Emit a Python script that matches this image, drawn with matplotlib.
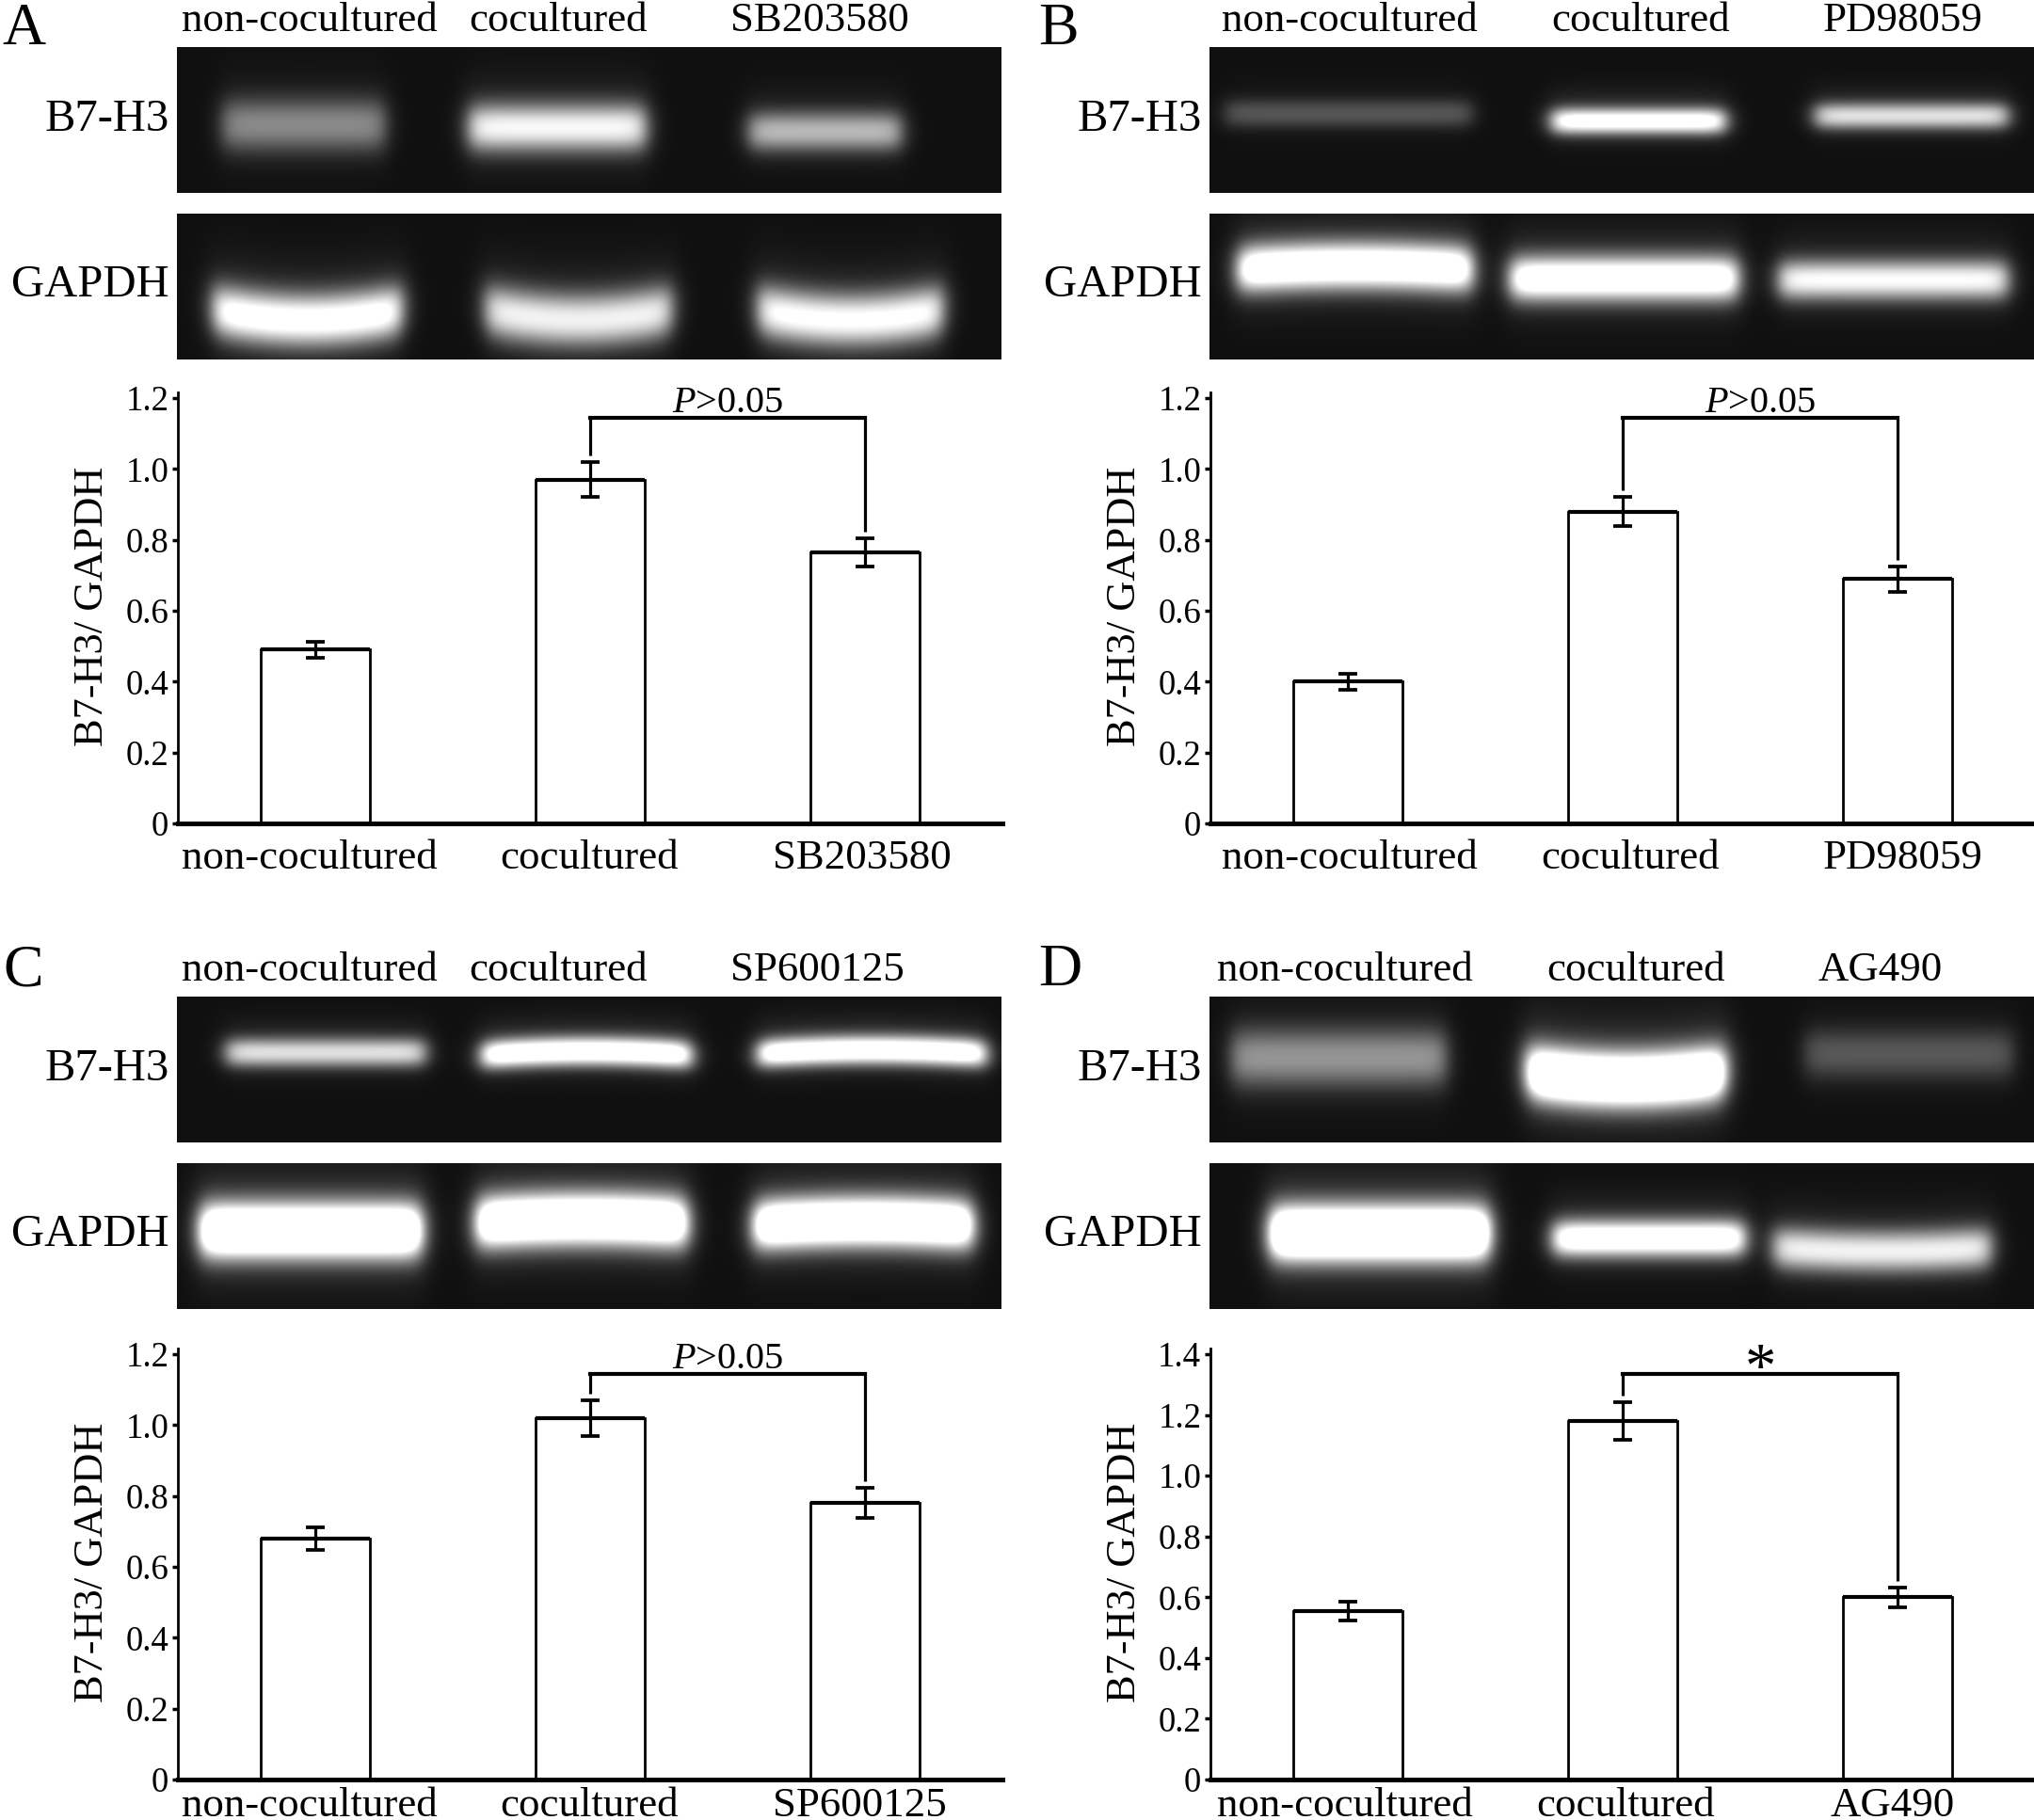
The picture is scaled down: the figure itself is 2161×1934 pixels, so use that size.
import numpy as np
import matplotlib
matplotlib.use("Agg")
import matplotlib.pyplot as plt

plt.rcParams["font.family"] = ["Liberation Serif", "DejaVu Serif"]
plt.rcParams["mathtext.fontset"] = "custom"
plt.rcParams["mathtext.rm"] = "Liberation Serif"
plt.rcParams["mathtext.it"] = "Liberation Serif:italic"

W, H = 2161, 1934

# ==========================================
# DATA
# ==========================================
panel_names = ["A", "B", "C", "D"]
treatments = ["SB203580", "PD98059", "SP600125", "AG490"]
groups = ["non-cocultured", "cocultured"]

values_a = [0.49, 0.97, 0.765]
values_b = [0.40, 0.88, 0.69]
values_c = [0.68, 1.02, 0.78]
values_d = [0.555, 1.18, 0.60]

errors_a = [0.022, 0.05, 0.04]
errors_b = [0.022, 0.042, 0.036]
errors_c = [0.032, 0.05, 0.042]
errors_d = [0.03, 0.062, 0.032]

tick_max = [1.2, 1.2, 1.2, 1.4]
signif = ["$\\mathit{P}$>0.05", "$\\mathit{P}$>0.05", "$\\mathit{P}$>0.05", "*"]
bracket_level = [1.144, 1.144, 1.144, 1.335]

all_values = [values_a, values_b, values_c, values_d]
all_errors = [errors_a, errors_b, errors_c, errors_d]

# gel bands, in the units of the 1568 wide view, relative to the gel corner:
# x0, x1, y centre, half height, brightness, smile
bands_b7 = [
    [(35, 160, 60, 20, 0.42, 0), (225, 361, 62, 18, 0.80, 0), (441, 558, 65, 15, 0.58, 0)],
    [(12, 202, 51, 11, 0.24, 0), (264, 397, 57, 10, 0.95, 0), (467, 615, 53, 10, 0.72, 0)],
    [(38, 191, 43, 11, 0.72, 0), (235, 396, 45, 11, 1.05, -3), (448, 623, 44, 11, 1.05, -3)],
    [(17, 182, 47, 22, 0.46, 0), (245, 397, 58, 21, 1.4, 6), (459, 619, 44, 19, 0.25, 0)],
]
bands_gapdh = [
    [(28, 173, 74, 20, 0.92, 8), (238, 381, 74, 20, 0.78, 8), (448, 590, 74, 20, 0.85, 8)],
    [(22, 202, 43, 18, 1.1, -3), (232, 407, 50, 17, 1.05, 0), (439, 615, 51, 15, 0.82, 0)],
    [(18, 188, 52, 21, 1.4, 0), (231, 393, 46, 20, 1.3, -3), (445, 613, 48, 19, 1.3, -3)],
    [(47, 215, 54, 21, 1.5, 0), (265, 412, 58, 14, 1.05, 0), (435, 602, 65, 16, 0.78, 3)],
]

# ==========================================
# LAYOUT (pixels of the final picture)
# ==========================================
offset_x = [0, 1097, 0, 1097]
offset_gel = [0, 0, 1009, 1009]
offset_bar = [0, 0, 1016, 1016]
letter_xy = [(25, 32), (1124, 32), (25, 1032), (1126, 1032)]
xlabel_pad = [12, 12, 6, 6]

# label centres are not under the bars in the original
top_label_x = [[329, 593, 871], [1434, 1743, 2022], [329, 593, 868], [1429, 1738, 1998]]
bottom_label_x = [[329, 626, 916], [1434, 1732, 2022], [329, 626, 913], [1429, 1727, 2011]]


def fig_text(x, y, s, **kw):
    fig.text(x / W, 1 - y / H, s, **kw)


def add_axes_px(left, top, right, bottom):
    return fig.add_axes([left / W, 1 - bottom / H, (right - left) / W, (bottom - top) / H])


def gel_image(bands):
    y, x = np.mgrid[0:112:155j, 0:635:876j]
    img = np.full(x.shape, 0.06)
    for x0, x1, yc, hh, amp, smile in bands:
        xc = (x0 + x1) / 2
        half = (x1 - x0) / 2
        yy = yc + smile * (1 - ((x - xc) / half) ** 2)
        sx = 0.5 * (np.tanh((x - x0) / 8) - np.tanh((x - x1) / 8))
        core = np.exp(-np.abs((y - yy) / hh) ** 2.2)
        halo = 0.5 * (np.tanh((x - x0 + 4) / 11) - np.tanh((x - x1 - 4) / 11))
        halo = halo * np.exp(-((y - yy + 4) / (2.0 * hh)) ** 2)
        img = img + amp * sx * core + amp * 0.14 * halo
    return np.clip(img, 0, 1)


def draw_gel(left, top, bands):
    ax = add_axes_px(left, top, left + 876, top + 155)
    ax.imshow(gel_image(bands), cmap="gray", vmin=0, vmax=1, aspect="auto", interpolation="bilinear")
    ax.set_xticks([])
    ax.set_yticks([])
    for s in ax.spines.values():
        s.set_visible(False)


fig = plt.figure(figsize=(W / 100, H / 100), dpi=100, facecolor="white")

# ==========================================
# PANELS
# ==========================================
for i in range(4):
    dx = offset_x[i]
    dg = offset_gel[i]
    db = offset_bar[i]
    labels = groups + [treatments[i]]

    fig_text(letter_xy[i][0], letter_xy[i][1], panel_names[i], fontsize=46, ha="center", va="center")

    # gels and their labels
    for lab, xc in zip(labels, top_label_x[i]):
        fig_text(xc, dg + 22, lab, fontsize=32.3, ha="center", va="center")
    draw_gel(188 + dx, 50 + dg, bands_b7[i])
    draw_gel(188 + dx, 227 + dg, bands_gapdh[i])
    fig_text(180 + dx, 127 + dg, "B7-H3", fontsize=35, ha="right", va="center")
    fig_text(180 + dx, 303 + dg, "GAPDH", fontsize=35, ha="right", va="center")

    # bar chart
    ax = add_axes_px(189 + dx, 417 + db, 1065 + dx, 875 + db)
    vals = all_values[i]
    errs = all_errors[i]
    pos = np.arange(3)
    per_px = tick_max[i] / 452
    ax.set_xlim(-0.5, 2.5)
    ax.set_ylim(0, tick_max[i] + 6 * per_px)

    ax.bar(pos, vals, width=0.395, color="white", edgecolor="black", linewidth=2.0, zorder=2)
    ax.hlines(vals, pos - 0.1975, pos + 0.1975, color="black", linewidth=3.0, zorder=3)
    ax.errorbar(pos, vals, yerr=errs, fmt="none", ecolor="black", elinewidth=2.3,
                capsize=7.5, capthick=2.7, zorder=4)

    # bracket between cocultured and the inhibitor
    lev = bracket_level[i]
    gap = 7 * per_px
    ax.plot([1, 1], [vals[1] + errs[1] + gap, lev], color="black", lw=2.3, solid_capstyle="butt")
    ax.plot([2, 2], [vals[2] + errs[2] + gap, lev], color="black", lw=2.3, solid_capstyle="butt")
    ax.plot([1, 2], [lev, lev], color="black", lw=3.0, solid_capstyle="projecting")
    if signif[i] == "*":
        ax.text(1.5, lev + 10 * per_px, "*", fontsize=48, ha="center", va="center_baseline")
    else:
        ax.text(1.5, lev + 16 * per_px, signif[i], fontsize=29, ha="center", va="center")

    # axes
    for s in ["top", "right"]:
        ax.spines[s].set_visible(False)
    ax.spines["left"].set_linewidth(2.0)
    ax.spines["bottom"].set_linewidth(3.6)
    ticks = np.arange(0, tick_max[i] + 0.01, 0.2)
    ax.set_yticks(ticks)
    ax.set_yticklabels(["0"] + [f"{t:.1f}" for t in ticks[1:]], fontsize=26.5)
    ax.tick_params(axis="y", length=4, width=2.5, pad=3)
    ax.set_xticks([(px - (189 + dx)) / 292 - 0.5 for px in bottom_label_x[i]])
    ax.set_xticklabels(labels, fontsize=32.3)
    ax.tick_params(axis="x", length=0, pad=xlabel_pad[i])
    fig_text(98 + dx, 644 + db, "B7-H3/ GAPDH", fontsize=32, rotation=90, ha="center", va="center")

fig.savefig("out.png", dpi=100)
